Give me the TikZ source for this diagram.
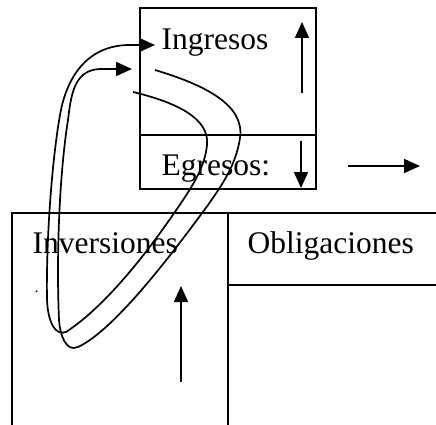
\documentclass[tikz,border=0pt]{standalone}
\usepackage{fontspec}
\setmainfont{Liberation Serif}
\usetikzlibrary{arrows.meta}
\begin{document}
\begin{tikzpicture}[x=1pt,y=-1pt,
  boxline/.style={line width=1.9pt},
  arr/.style={line width=1.7pt,-{Triangle[length=16pt,width=14pt]}},
  lbl/.style={anchor=base west,inner sep=0pt,font=\fontsize{31.5}{36}\selectfont}]
\useasboundingbox (0,0) rectangle (436,425);
% top box
\draw[boxline] (140,8) rectangle (316,189);
\draw[boxline] (140,135) -- (316,135);
% bottom boxes
\draw[boxline] (12,425) -- (12,213) -- (436,213);
\draw[boxline] (228,213) -- (228,425);
\draw[boxline] (228,285) -- (436,285);
% labels
\node[lbl] (ing) at (161.5,49.5) {Ingresos};
\node[lbl] (egr) at (161.5,175.5) {Egresos:};
\node[lbl] (inv) at (32.5,253.5) {Inversiones};
\node[lbl] (obl) at (247.5,253.5) {Obligaciones};
\node[anchor=base west,inner sep=0pt,font=\fontsize{16}{18}\selectfont] (dot) at (34.5,292) {.};
% straight arrows
\coordinate (ua0) at (302,93);  \coordinate (ua1) at (302,22);
\coordinate (da0) at (301,141); \coordinate (da1) at (301,188);
\coordinate (ra0) at (348,166); \coordinate (ra1) at (420,166);
\coordinate (va0) at (181,382); \coordinate (va1) at (181,286);
\draw[arr] (ua0) -- (ua1);
\draw[arr] (da0) -- (da1);
\draw[arr] (ra0) -- (ra1);
\draw[arr] (va0) -- (va1);
% looping flows
\coordinate (s1) at (133,92);
\coordinate (t1) at (155,45);
\coordinate (s2) at (155,70);
\coordinate (t2) at (132,69);
\draw[arr] (s1) .. controls (175,102) and (210,118) .. (207,145)
  .. controls (205,165) and (195,182) .. (183,200)
  .. controls (165,227) and (115,300) .. (66,332)
  .. controls (55,336) and (48,322) .. (47,300)
  .. controls (46,240) and (52,160) .. (60,115)
  .. controls (66,80) and (85,46) .. (128,45) -- (t1);
\draw[arr] (s2) .. controls (205,85) and (245,105) .. (240,138)
  .. controls (236,165) and (222,185) .. (208,205)
  .. controls (175,250) and (115,330) .. (78,347)
  .. controls (66,352.5) and (60,335) .. (59,320)
  .. controls (56,250) and (60,170) .. (68,120)
  .. controls (71,95) and (74,70) .. (100,69) -- (t2);
\end{tikzpicture}
\end{document}
